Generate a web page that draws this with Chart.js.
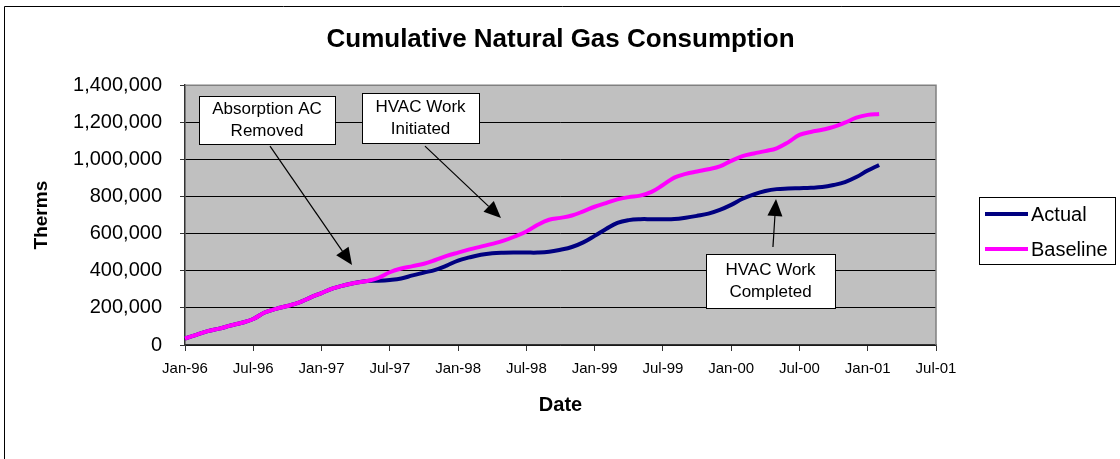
<!DOCTYPE html>
<html>
<head>
<meta charset="utf-8">
<script src="https://cdn.jsdelivr.net/npm/chart.js@4.4.0/dist/chart.umd.min.js"></script>
<style>
  html, body { margin: 0; padding: 0; background: #fff; }
</style>
</head>
<body>
<canvas id="gasChart" width="1120" height="459"></canvas>
<script>
// Eixo X: meses de Jan-96 a Jul-01
const monthNames = ['Jan', 'Feb', 'Mar', 'Apr', 'May', 'Jun', 'Jul', 'Aug', 'Sep', 'Oct', 'Nov', 'Dec'];
const months = [];
for (let y = 1996; y <= 2001; y++) {
    for (let m = 0; m < 12; m++) {
        if (y === 2001 && m > 6) break;
        months.push(monthNames[m] + '-' + String(y % 100).padStart(2, '0'));
    }
}

// Consumo acumulado (therms), mensal de Jan-96 a Feb-01
const actual = [
    35000, 55000, 75000, 88000, 105000, 120000, 140000, 175000, 195000, 210000,
    228000, 255000, 280000, 305000, 322000, 335000, 345000, 346000, 350000, 358000,
    375000, 390000, 405000, 428000, 455000, 472000, 486000, 494000, 497000, 498000,
    498000, 498000, 502000, 513000, 528000, 553000, 588000, 625000, 658000, 673000,
    678000, 678000, 678000, 679000, 686000, 696000, 708000, 728000, 755000, 788000,
    812000, 830000, 840000, 843000, 845000, 847000, 851000, 862000, 878000, 905000,
    940000, 970000
];
const baseline = [
    35000, 55000, 75000, 88000, 105000, 120000, 140000, 175000, 195000, 210000,
    228000, 255000, 280000, 305000, 322000, 335000, 345000, 362000, 392000, 412000,
    425000, 438000, 458000, 480000, 498000, 515000, 530000, 545000, 562000, 585000,
    612000, 648000, 675000, 685000, 698000, 720000, 745000, 765000, 785000, 797000,
    805000, 825000, 862000, 902000, 922000, 935000, 947000, 962000, 992000, 1018000,
    1032000, 1045000, 1060000, 1092000, 1132000, 1148000, 1160000, 1175000, 1198000, 1225000,
    1240000, 1245000
];

// Anotações (posições em unidades do gráfico: índice do mês, therms)
const notes = [
    { lines: ['Absorption AC', 'Removed'], box: [1.23, 13.18, 1340800, 1082300],
      arrow: [7.47, 1071500, 14.68, 430800] },
    { lines: ['HVAC Work', 'Initiated'], box: [15.56, 25.84, 1356900, 1087700],
      arrow: [21.09, 1071500, 27.77, 683800] },
    { lines: ['HVAC Work', 'Completed'], box: [45.79, 57.12, 490000, 199200],
      arrow: [51.67, 527700, 51.94, 786200] }
];

const fontFamily = '"Liberation Sans", Arial, sans-serif';
Chart.defaults.font.family = fontFamily;
Chart.defaults.color = '#000';

// Fundo cinza da área do gráfico e moldura externa
const plotBackground = {
    id: 'plotBackground',
    beforeDraw(chart) {
        const { ctx, chartArea: a } = chart;
        ctx.save();
        ctx.strokeStyle = '#000';
        ctx.lineWidth = 1;
        ctx.beginPath();
        ctx.moveTo(4.5, chart.height);
        ctx.lineTo(4.5, 6.5);
        ctx.lineTo(chart.width, 6.5);
        ctx.stroke();
        ctx.fillStyle = '#C0C0C0';
        ctx.fillRect(a.left, a.top, a.right - a.left, a.bottom - a.top);
        ctx.restore();
    },
    beforeDatasetsDraw(chart) {
        const { ctx, chartArea: a } = chart;
        ctx.save();
        ctx.strokeStyle = '#808080';
        ctx.lineWidth = 1.5;
        ctx.beginPath();
        ctx.moveTo(a.left, a.top);
        ctx.lineTo(a.right, a.top);
        ctx.lineTo(a.right, a.bottom);
        ctx.stroke();
        ctx.restore();
    }
};

// Caixas de texto com setas
const notesPlugin = {
    id: 'notes',
    afterDatasetsDraw(chart) {
        const { ctx, scales: { x, y } } = chart;
        ctx.save();
        notes.forEach(n => {
            const x0 = x.getPixelForValue(n.box[0]);
            const x1 = x.getPixelForValue(n.box[1]);
            const y0 = y.getPixelForValue(n.box[2]);
            const y1 = y.getPixelForValue(n.box[3]);
            ctx.fillStyle = '#fff';
            ctx.fillRect(x0, y0, x1 - x0, y1 - y0);
            ctx.strokeStyle = '#000';
            ctx.lineWidth = 1;
            ctx.strokeRect(Math.round(x0) + 0.5, Math.round(y0) + 0.5, Math.round(x1 - x0), Math.round(y1 - y0));
            ctx.fillStyle = '#000';
            ctx.font = '17px ' + fontFamily;
            ctx.textAlign = 'center';
            ctx.textBaseline = 'middle';
            const cx = (x0 + x1) / 2, cy = (y0 + y1) / 2;
            ctx.fillText(n.lines[0], cx, cy - 11);
            ctx.fillText(n.lines[1], cx, cy + 11);

            // seta
            const ax = x.getPixelForValue(n.arrow[0]);
            const ay = y.getPixelForValue(n.arrow[1]);
            const bx = x.getPixelForValue(n.arrow[2]);
            const by = y.getPixelForValue(n.arrow[3]);
            const ang = Math.atan2(by - ay, bx - ax);
            const headLen = 17, headW = 7.5;
            const hx = bx - headLen * Math.cos(ang), hy = by - headLen * Math.sin(ang);
            ctx.lineWidth = 1.2;
            ctx.beginPath();
            ctx.moveTo(ax, ay);
            ctx.lineTo(hx, hy);
            ctx.stroke();
            ctx.beginPath();
            ctx.moveTo(bx, by);
            ctx.lineTo(hx + headW * Math.sin(ang), hy - headW * Math.cos(ang));
            ctx.lineTo(hx - headW * Math.sin(ang), hy + headW * Math.cos(ang));
            ctx.closePath();
            ctx.fill();
        });
        ctx.restore();
    }
};

// Legenda com moldura, à direita
const boxLegend = {
    id: 'boxLegend',
    afterDraw(chart) {
        const { ctx } = chart;
        ctx.save();
        ctx.strokeStyle = '#000';
        ctx.lineWidth = 1;
        ctx.strokeRect(979.5, 197.5, 136, 67);
        ctx.font = '20px ' + fontFamily;
        ctx.textAlign = 'left';
        ctx.textBaseline = 'middle';
        chart.data.datasets.forEach((ds, i) => {
            const ly = 214 + i * 35;
            ctx.strokeStyle = ds.borderColor;
            ctx.lineWidth = 4;
            ctx.beginPath();
            ctx.moveTo(985, ly);
            ctx.lineTo(1028, ly);
            ctx.stroke();
            ctx.fillStyle = '#000';
            ctx.fillText(ds.label, 1031, ly + 1);
        });
        ctx.restore();
    }
};

new Chart(document.getElementById('gasChart'), {
    type: 'line',
    data: {
        labels: months,
        datasets: [
            {
                label: 'Actual',
                data: actual,
                borderColor: '#000080',
                borderWidth: 4,
                pointRadius: 0,
                tension: 0.4,
                fill: false,
                order: 1
            },
            {
                label: 'Baseline',
                data: baseline,
                borderColor: '#FF00FF',
                borderWidth: 4,
                pointRadius: 0,
                tension: 0.4,
                fill: false,
                order: 0 // desenhada por cima da linha Actual
            }
        ]
    },
    options: {
        responsive: false,
        animation: false,
        devicePixelRatio: 1,
        layout: { padding: { left: 5, right: 184, top: 0, bottom: 0 } },
        scales: {
            x: {
                type: 'category',
                offset: false,
                afterFit(scale) { scale.height = 114; },
                grid: {
                    drawOnChartArea: false,
                    tickLength: 6,
                    tickColor: c => (c.index % 6 === 0 ? '#333' : 'rgba(0,0,0,0)')
                },
                border: { color: '#333', width: 1.5 },
                ticks: {
                    autoSkip: false,
                    maxRotation: 0,
                    minRotation: 0,
                    padding: 9,
                    font: { size: 15 },
                    callback: (v, i) => (i % 6 === 0 ? months[i] : '')
                },
                title: {
                    display: true,
                    text: 'Date',
                    font: { size: 20, weight: 'bold' },
                    padding: { top: 0, bottom: 42 }
                }
            },
            y: {
                min: 0,
                max: 1400000,
                afterFit(scale) { scale.width = 180; },
                grid: {
                    color: c => (c.tick && c.tick.value === 1400000 ? '#808080' : '#000'),
                    lineWidth: 1,
                    tickLength: 5,
                    tickColor: '#333'
                },
                border: { color: '#333', width: 1.5 },
                ticks: {
                    stepSize: 200000,
                    padding: 18,
                    font: { size: 20 },
                    callback: v => v.toLocaleString('en-US')
                },
                title: {
                    display: true,
                    text: 'Therms',
                    font: { size: 19, weight: 'bold' },
                    padding: { top: 25, bottom: 0 }
                }
            }
        },
        plugins: {
            legend: { display: false },
            tooltip: { enabled: false },
            title: {
                display: true,
                fullSize: false,
                text: 'Cumulative Natural Gas Consumption',
                font: { size: 26, weight: 'bold' },
                color: '#000',
                padding: { top: 24, bottom: 30 }
            }
        }
    },
    plugins: [plotBackground, notesPlugin, boxLegend]
});
</script>
</body>
</html>
